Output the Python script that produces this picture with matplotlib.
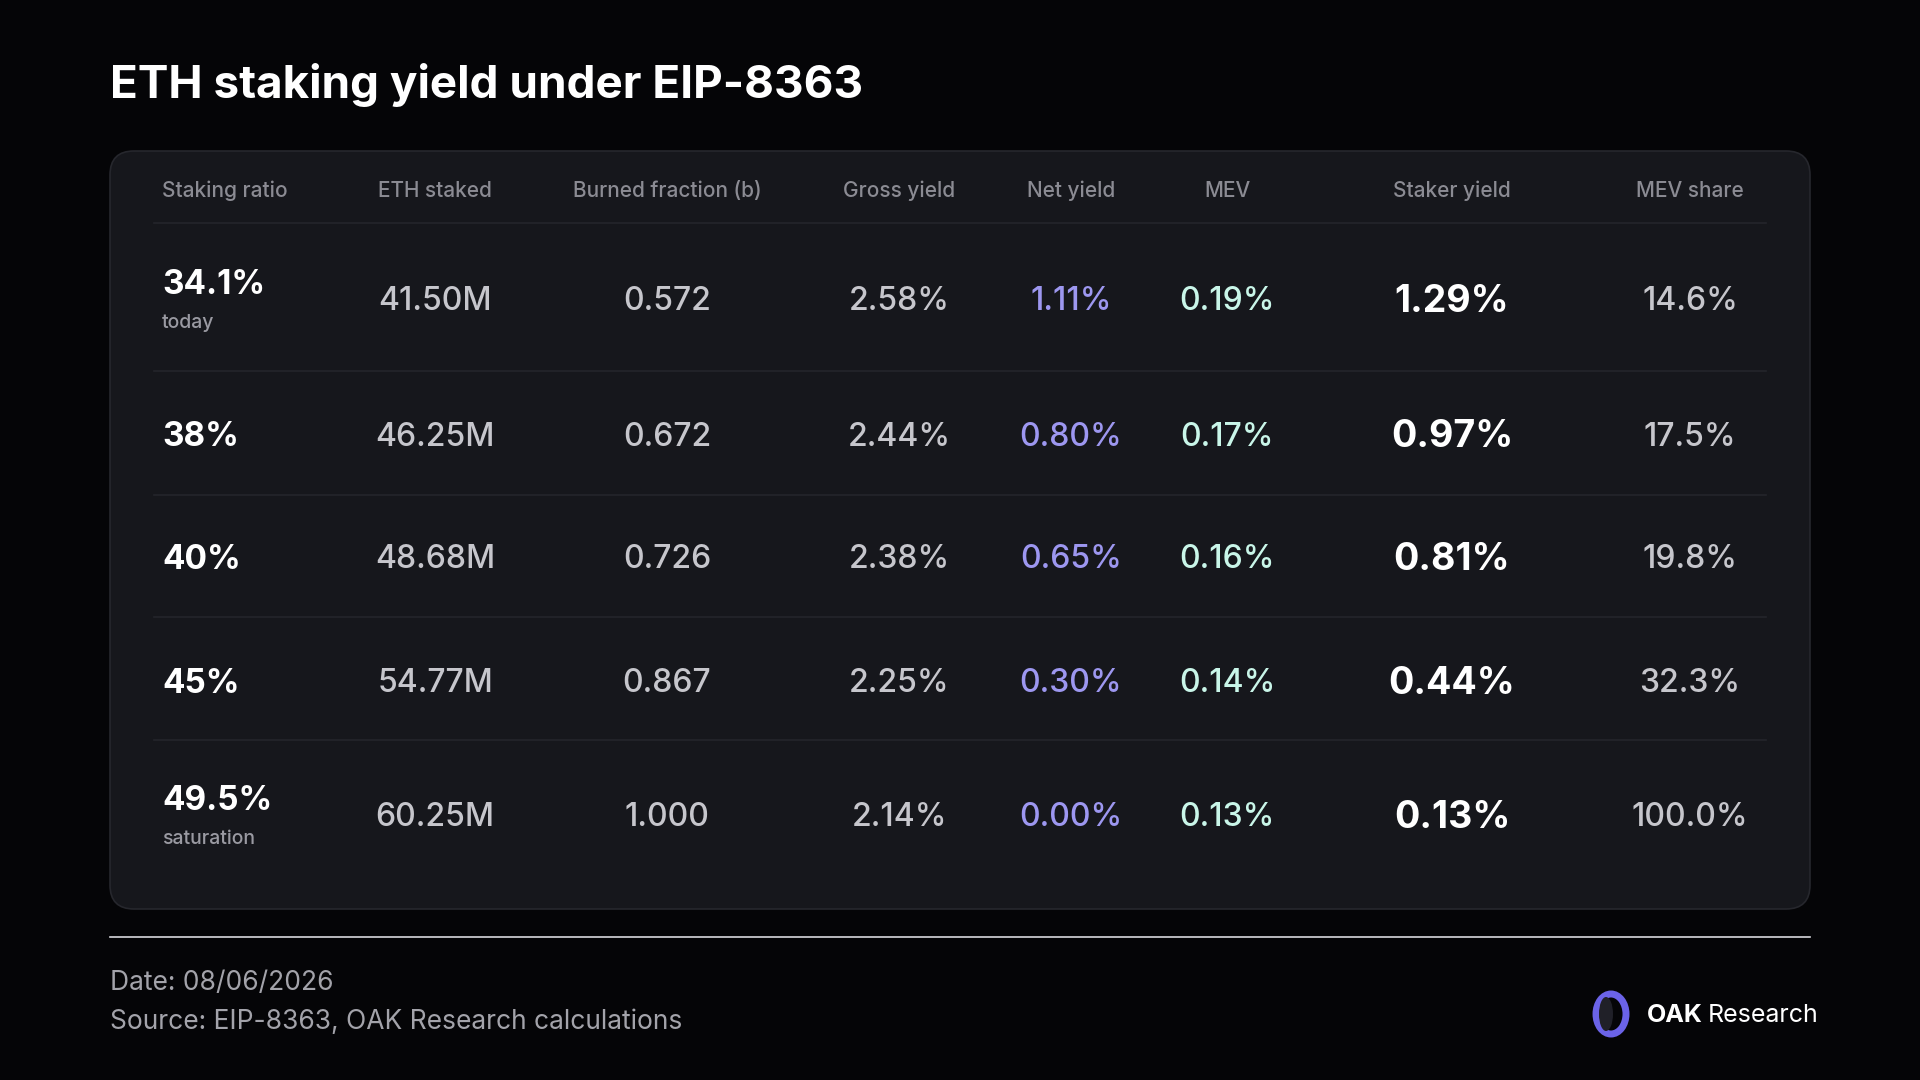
import matplotlib
matplotlib.use("Agg")
import matplotlib.pyplot as plt
from matplotlib.patches import FancyBboxPatch, Ellipse

plt.rcParams['font.family'] = ['Inter', 'DejaVu Sans']

headers = ["Staking ratio", "ETH staked", "Burned fraction (b)", "Gross yield",
           "Net yield", "MEV", "Staker yield", "MEV share"]
ratios = ["34.1%", "38%", "40%", "45%", "49.5%"]
ratio_notes = ["today", "", "", "", "saturation"]
eth_staked = ["41.50M", "46.25M", "48.68M", "54.77M", "60.25M"]
burned = ["0.572", "0.672", "0.726", "0.867", "1.000"]
gross = ["2.58%", "2.44%", "2.38%", "2.25%", "2.14%"]
net = ["1.11%", "0.80%", "0.65%", "0.30%", "0.00%"]
mev = ["0.19%", "0.17%", "0.16%", "0.14%", "0.13%"]
staker = ["1.29%", "0.97%", "0.81%", "0.44%", "0.13%"]
mev_share = ["14.6%", "17.5%", "19.8%", "32.3%", "100.0%"]

BG = "#050507"
CARD = "#16171c"
GRAY = "#c6c6cc"
HEAD = "#8b8b93"

fig = plt.figure(figsize=(19.2, 10.8), dpi=100, facecolor=BG)
ax = fig.add_axes([0, 0, 1, 1])
ax.set_xlim(0, 1920)
ax.set_ylim(1080, 0)
ax.axis("off")
ax.set_facecolor(BG)

ax.text(110, 85, "ETH staking yield under EIP-8363", color="white", fontsize=33,
        fontweight="bold", va="center", ha="left")

card = FancyBboxPatch((110, 151), 1700, 758, boxstyle="round,pad=0,rounding_size=24",
                      facecolor=CARD, edgecolor="#26272d", linewidth=1.2)
ax.add_patch(card)

col_x = [162, 435, 667, 899, 1071, 1227, 1452, 1690]
row_y = [302, 437, 560, 684, 818]
sep_y = [223, 371, 495, 617, 740]

for i, h in enumerate(headers):
    ax.text(col_x[i], 191, h, color=HEAD, fontsize=15, fontweight="medium",
            va="center", ha="left" if i == 0 else "center")
for y in sep_y:
    ax.plot([154, 1766], [y, y], color="#24252b", lw=1.2)

for r, y in enumerate(row_y):
    if ratio_notes[r]:
        ax.text(col_x[0], y - 17, ratios[r], color="white", fontsize=24,
                fontweight="bold", va="center", ha="left")
        ax.text(col_x[0], y + 21, ratio_notes[r], color="#9a9aa2", fontsize=14,
                fontweight="medium", va="center", ha="left")
    else:
        ax.text(col_x[0], y, ratios[r], color="white", fontsize=24,
                fontweight="bold", va="center", ha="left")
    cells = [(eth_staked, GRAY, "medium", 23), (burned, GRAY, "medium", 23),
             (gross, GRAY, "medium", 23), (net, "#9d97f0", "medium", 23),
             (mev, "#c9f6e9", "medium", 23), (staker, "white", "bold", 27),
             (mev_share, GRAY, "medium", 23)]
    for c, (vals, col, fw, fs) in enumerate(cells):
        ax.text(col_x[c + 1], y, vals[r], color=col, fontsize=fs, fontweight=fw,
                va="center", ha="center")

ax.plot([110, 1810], [937, 937], color="#d8d8dc", lw=1.2)
ax.text(110, 983, "Date: 08/06/2026", color="#a3a3aa", fontsize=19, va="center")
ax.text(110, 1022, "Source: EIP-8363, OAK Research calculations", color="#a3a3aa",
        fontsize=19, va="center")

ax.add_patch(Ellipse((1611, 1014), 30, 40, facecolor="none", edgecolor="#6b63e8", lw=5))
ax.add_patch(Ellipse((1606, 1014), 14, 34, facecolor="#202028", edgecolor="none"))
ax.text(1647, 1015, "OAK", color="white", fontsize=18, fontweight="bold", va="center")
ax.text(1708, 1015, "Research", color="white", fontsize=18, va="center")

fig.savefig("out.png", dpi=100, facecolor=BG)
